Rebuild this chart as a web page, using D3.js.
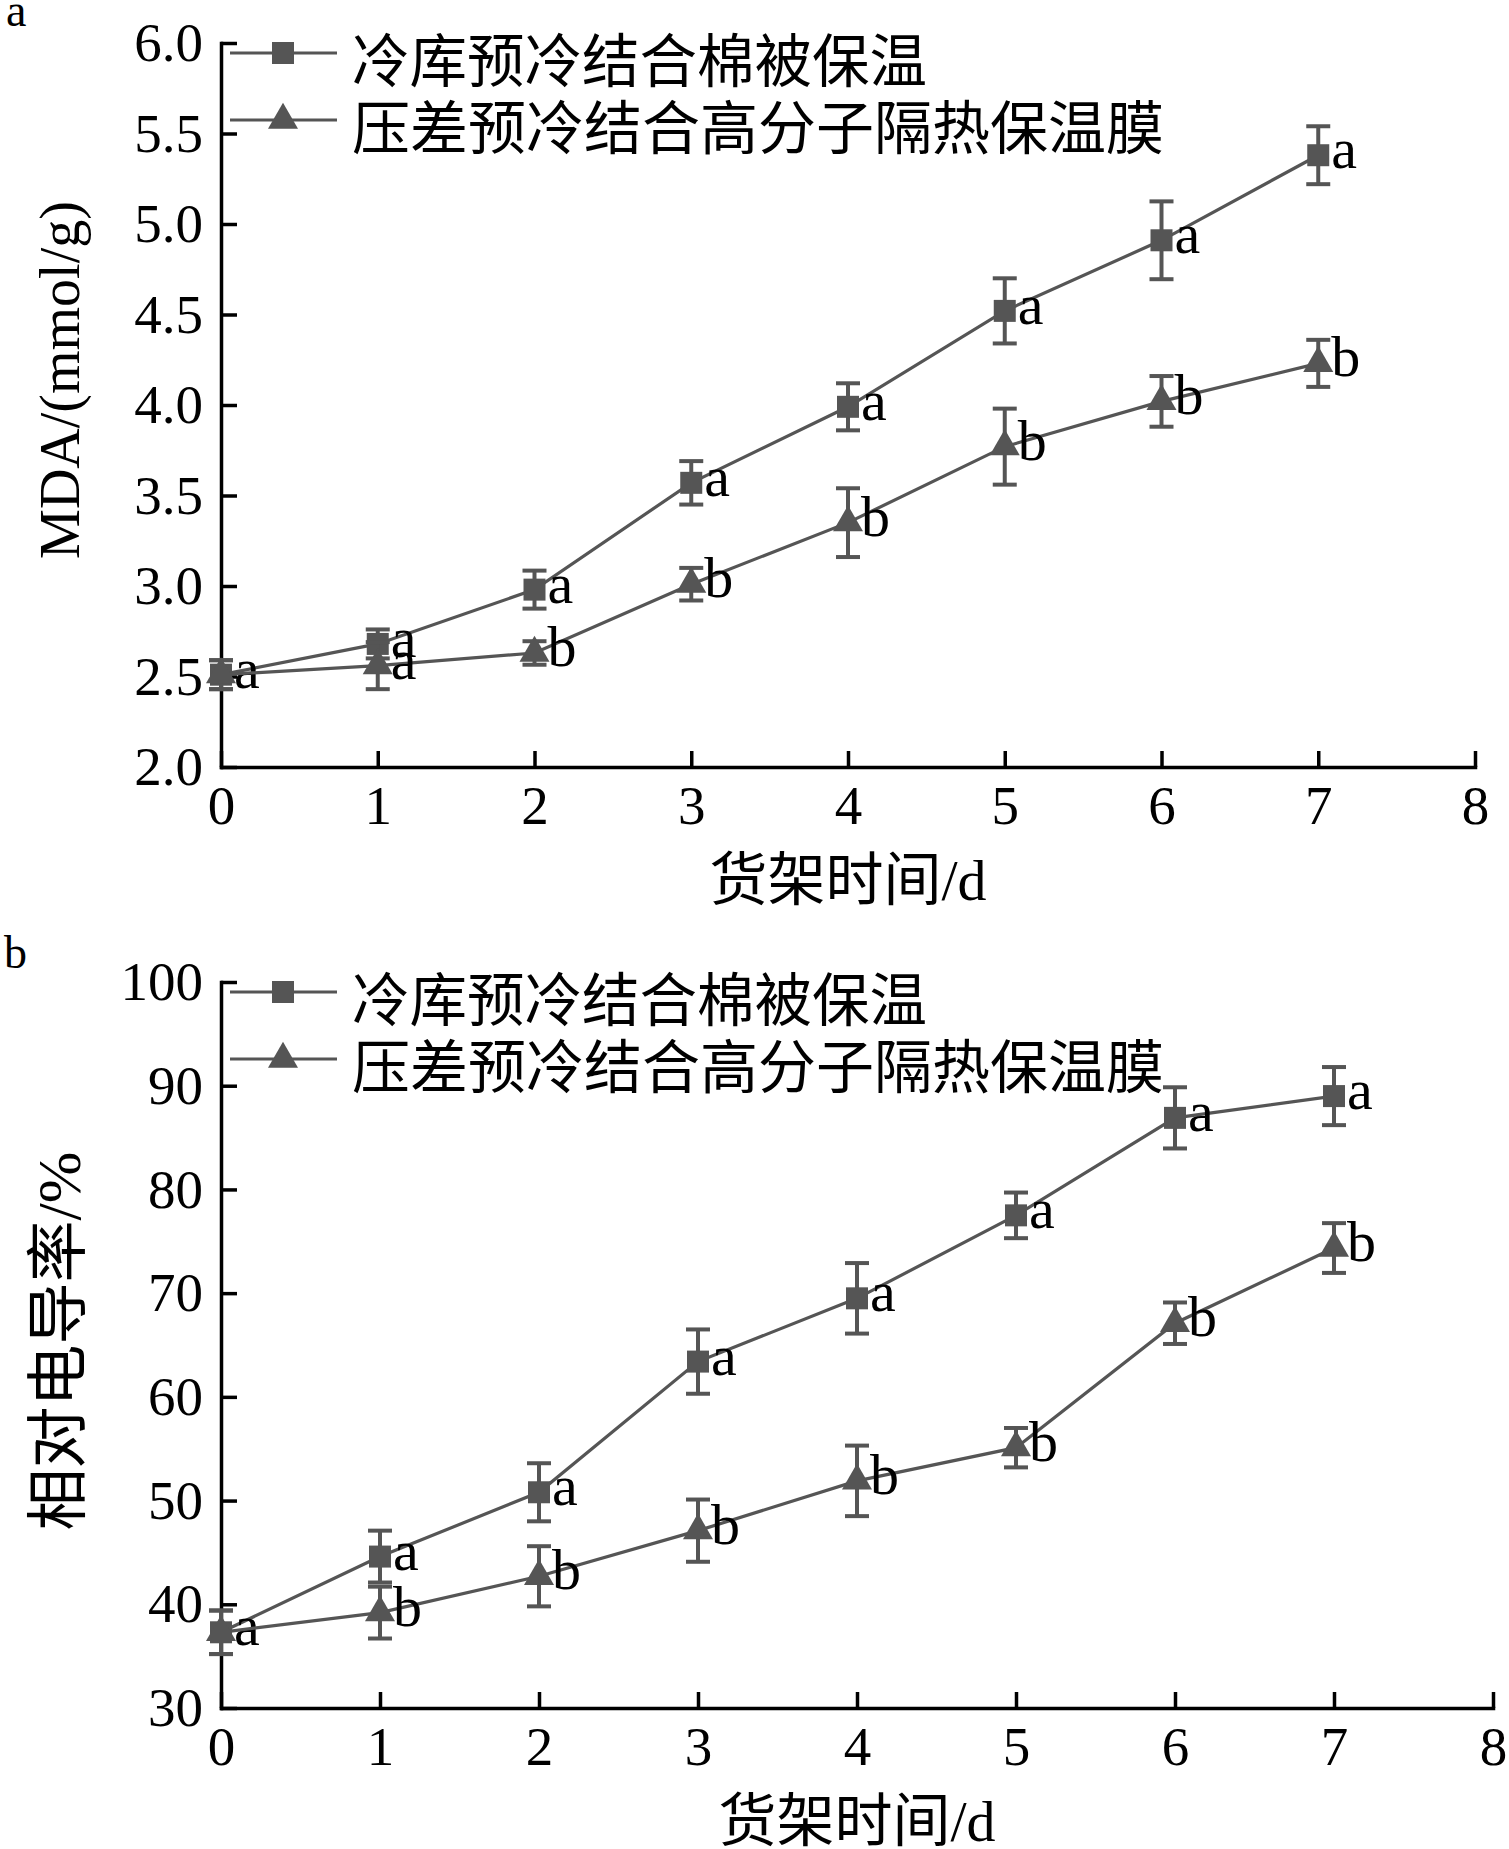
<!DOCTYPE html>
<html>
<head>
<meta charset="utf-8">
<script src="https://cdn.jsdelivr.net/npm/d3@7"></script>
<style>
  body { margin: 0; background: #fff; }
</style>
</head>
<body>
<div id="chart"></div>
<script>
// Shelf days and tick values
const days = [0, 1, 2, 3, 4, 5, 6, 7];
const dayTicks = [0, 1, 2, 3, 4, 5, 6, 7, 8];
const mdaTicks = [2.0, 2.5, 3.0, 3.5, 4.0, 4.5, 5.0, 5.5, 6.0];
const condTicks = [30, 40, 50, 60, 70, 80, 90, 100];

const seriesNames = ['冷库预冷结合棉被保温', '压差预冷结合高分子隔热保温膜'];

// Panel a: MDA (mmol/g)
const mdaCold = [2.51, 2.68, 2.98, 3.57, 3.99, 4.52, 4.91, 5.38];
const mdaColdErr = [0.08, 0.08, 0.105, 0.12, 0.13, 0.18, 0.215, 0.16];
const mdaColdSig = ['a', 'a', 'a', 'a', 'a', 'a', 'a', 'a'];
const mdaPress = [2.51, 2.56, 2.63, 3.01, 3.35, 3.77, 4.02, 4.23];
const mdaPressErr = [0.08, 0.13, 0.065, 0.09, 0.19, 0.21, 0.14, 0.13];
const mdaPressSig = ['', 'a', 'b', 'b', 'b', 'b', 'b', 'b'];

// Panel b: relative conductivity (%)
const condCold = [37.3, 44.6, 50.8, 63.4, 69.5, 77.5, 86.9, 89.0];
const condColdErr = [2.1, 2.5, 2.8, 3.1, 3.4, 2.2, 2.95, 2.8];
const condColdSig = ['a', 'a', 'a', 'a', 'a', 'a', 'a', 'a'];
const condPress = [37.3, 39.2, 42.7, 47.1, 51.9, 55.1, 67.1, 74.35];
const condPressErr = [2.1, 2.5, 2.9, 3.0, 3.4, 1.9, 2.0, 2.4];
const condPressSig = ['', 'b', 'b', 'b', 'b', 'b', 'b', 'b'];

const serif = '"Liberation Serif", "DejaVu Serif", serif';
const cjk = '"Noto Sans CJK SC", "Noto Sans", sans-serif';
const grey = '#555555';

const svg = d3.select('#chart')
  .append('svg')
  .attr('width', 1509)
  .attr('height', 1849)
  .style('background', '#fff');

function drawPanel(opts) {
  const x = d3.scaleLinear().domain([0, 8]).range([opts.left, opts.right]);
  const y = d3.scaleLinear().domain(opts.yDomain).range([opts.bottom, opts.top]);
  const g = svg.append('g');

  // Axes, ticks pointing inward
  const xAxis = g.append('g')
    .attr('transform', 'translate(0,' + opts.bottom + ')')
    .call(d3.axisBottom(x).tickValues(dayTicks).tickSize(-16).tickSizeOuter(0)
      .tickPadding(18).tickFormat(d3.format('d')));

  const yAxis = g.append('g')
    .attr('transform', 'translate(' + opts.left + ',0)')
    .call(d3.axisLeft(y).tickValues(opts.yTicks).tickSize(-16).tickSizeOuter(0)
      .tickPadding(18).tickFormat(opts.yFormat));

  [xAxis, yAxis].forEach(ax => {
    ax.select('.domain')
      .attr('stroke', '#000')
      .attr('stroke-width', 3.5)
      .attr('stroke-linecap', 'square');
    ax.selectAll('.tick line')
      .attr('stroke', '#000')
      .attr('stroke-width', 3.5);
    ax.selectAll('.tick text')
      .attr('fill', '#000')
      .style('font-family', serif)
      .style('font-size', '55px');
  });

  // Series: line, error bars, markers, significance letters
  opts.series.forEach(s => {
    const pts = days.map((d, i) => ({ day: d, v: s.values[i], e: s.errors[i], sig: s.letters[i] }));

    g.append('path')
      .datum(pts)
      .attr('fill', 'none')
      .attr('stroke', grey)
      .attr('stroke-width', 3.2)
      .attr('d', d3.line().x(d => x(d.day)).y(d => y(d.v)));

    const err = g.append('g').attr('stroke', grey).attr('stroke-width', 4);
    pts.forEach(d => {
      const cx = x(d.day);
      err.append('line')
        .attr('x1', cx).attr('x2', cx)
        .attr('y1', y(d.v + d.e)).attr('y2', y(d.v - d.e));
      [d.v + d.e, d.v - d.e].forEach(v => {
        err.append('line')
          .attr('x1', cx - 12).attr('x2', cx + 12)
          .attr('y1', y(v)).attr('y2', y(v));
      });
    });

    g.selectAll(null)
      .data(pts)
      .enter()
      .append('path')
      .attr('transform', d => 'translate(' + x(d.day) + ',' + y(d.v) + ')')
      .attr('d', d3.symbol().type(s.symbol).size(s.symbolSize))
      .attr('fill', grey);

    g.selectAll(null)
      .data(pts.filter(d => d.sig))
      .enter()
      .append('text')
      .attr('x', d => x(d.day) + 13)
      .attr('y', d => y(d.v) + 13)
      .style('font-family', serif)
      .style('font-size', '58px')
      .attr('fill', '#000')
      .text(d => d.sig);
  });

  // Legend
  opts.series.forEach((s, i) => {
    const ly = opts.top + 10 + i * 67;
    g.append('line')
      .attr('x1', 230).attr('x2', 337)
      .attr('y1', ly).attr('y2', ly)
      .attr('stroke', grey)
      .attr('stroke-width', 3.2);
    g.append('path')
      .attr('transform', 'translate(283,' + ly + ')')
      .attr('d', d3.symbol().type(s.symbol).size(s.symbolSize))
      .attr('fill', grey);
    g.append('text')
      .attr('x', 352)
      .attr('y', ly + 4)
      .attr('dominant-baseline', 'central')
      .attr('textLength', s.legendWidth)
      .attr('lengthAdjust', 'spacingAndGlyphs')
      .style('font-family', cjk)
      .style('font-size', '58px')
      .attr('fill', '#000')
      .text(s.name);
  });

  // X axis title
  const xt = g.append('text')
    .attr('x', (opts.left + opts.right) / 2)
    .attr('y', opts.bottom + 133)
    .attr('text-anchor', 'middle')
    .attr('fill', '#000')
    .style('font-family', cjk)
    .style('font-size', '58px');
  xt.append('tspan').text('货架时间');
  xt.append('tspan').style('font-family', serif).text('/d');

  // Y axis title
  const yt = g.append('text')
    .attr('transform', 'translate(' + opts.yTitleX + ',' + opts.yTitleY + ') rotate(-90)')
    .attr('text-anchor', 'middle')
    .attr('fill', '#000')
    .style('font-size', opts.yTitleSize + 'px');
  opts.yTitle.forEach(part => {
    yt.append('tspan').style('font-family', part.cjk ? cjk : serif).text(part.text);
  });

  // Panel label
  g.append('text')
    .attr('x', opts.labelX)
    .attr('y', opts.labelY)
    .style('font-family', serif)
    .style('font-size', '46px')
    .attr('fill', '#000')
    .text(opts.label);
}

drawPanel({
  label: 'a', labelX: 6, labelY: 26,
  left: 221, right: 1475, top: 43, bottom: 767,
  yDomain: [2, 6], yTicks: mdaTicks, yFormat: d3.format('.1f'),
  yTitle: [{ text: 'MDA/(mmol/g)' }], yTitleX: 79, yTitleY: 380, yTitleSize: 56,
  series: [
    { name: seriesNames[0], values: mdaCold, errors: mdaColdErr, letters: mdaColdSig,
      symbol: d3.symbolSquare, symbolSize: 484, legendWidth: 575 },
    { name: seriesNames[1], values: mdaPress, errors: mdaPressErr, letters: mdaPressSig,
      symbol: d3.symbolTriangle, symbolSize: 390, legendWidth: 812 }
  ]
});

drawPanel({
  label: 'b', labelX: 4, labelY: 968,
  left: 221, right: 1493, top: 982, bottom: 1708,
  yDomain: [30, 100], yTicks: condTicks, yFormat: d3.format('d'),
  yTitle: [{ text: '相对电导率', cjk: true }, { text: '/%' }], yTitleX: 80, yTitleY: 1341, yTitleSize: 62,
  series: [
    { name: seriesNames[0], values: condCold, errors: condColdErr, letters: condColdSig,
      symbol: d3.symbolSquare, symbolSize: 484, legendWidth: 575 },
    { name: seriesNames[1], values: condPress, errors: condPressErr, letters: condPressSig,
      symbol: d3.symbolTriangle, symbolSize: 390, legendWidth: 812 }
  ]
});
</script>
</body>
</html>
